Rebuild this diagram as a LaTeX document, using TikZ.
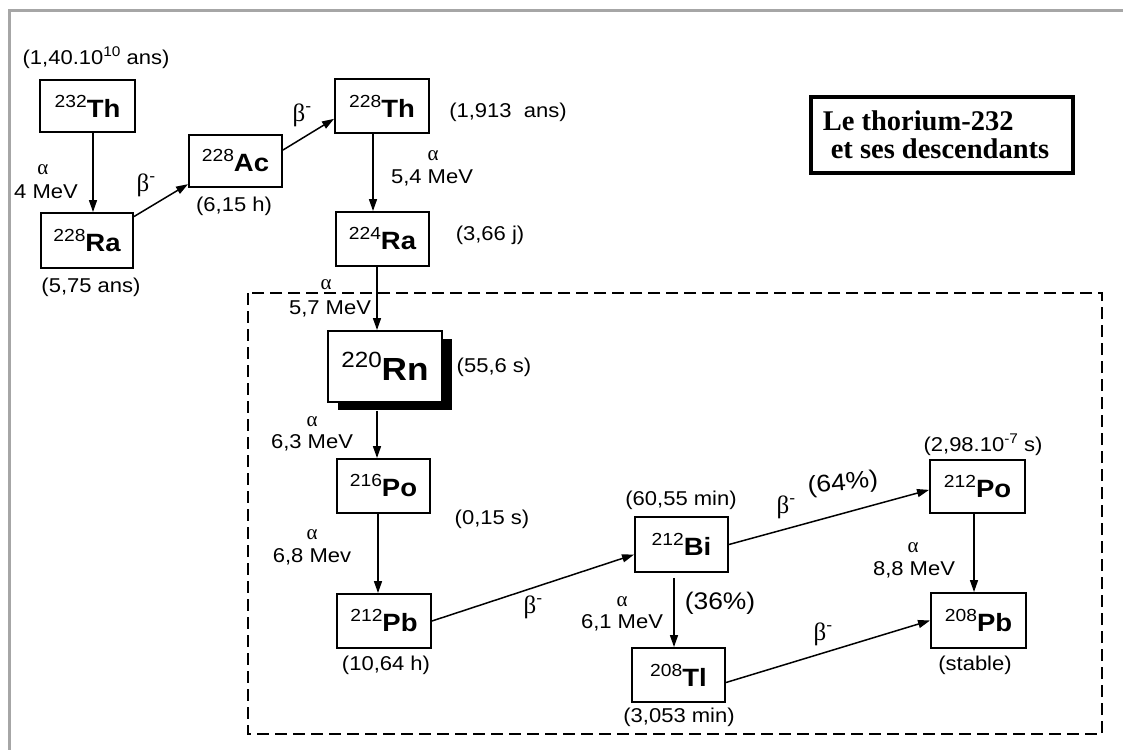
\documentclass[tikz,border=0pt]{standalone}
\usepackage{fontspec}
\setmainfont{Liberation Sans}[FakeStretch=1.1]
\newfontfamily\grf{Liberation Serif}
\newfontfamily\ttlf{Liberation Serif}
\usetikzlibrary{arrows.meta,calc,shadows}
\newcommand\fs[1]{\fontsize{#1}{#1}\selectfont}
\newcommand\iso[2]{{\fs{17.5}\raisebox{10pt}{#1}}{\fs{25}\bfseries #2}}
\newcommand\betam{{\grf\fs{25}β}{\fs{16}\raisebox{10pt}{-}}}
\begin{document}
\begin{tikzpicture}[x=1pt,y=-1pt,
  nuc/.style={draw, line width=1.9pt, fill=white, inner sep=0pt},
  lab/.style={inner sep=0pt, font=\fs{20}},
  big/.style={inner sep=0pt, font=\fs{24}},
  al/.style={inner sep=0pt, font=\grf\fs{21}},
  be/.style={inner sep=0pt},
  arr/.style={line width=1.5pt, -{Triangle[length=12pt,width=8pt]}}]
\useasboundingbox (0,0) rectangle (1123,749);
\fill[white] (0,0) rectangle (1123,749);
% outer grey frame
\draw[gray!70, line width=3pt] (9,760) -- (9,11) -- (1130,11);
% dashed region
\draw[dash pattern=on 12pt off 6pt, line width=2pt] (248,293) rectangle (1102,734);

% nuclides
\node[nuc, minimum width=95pt, minimum height=52pt] (th1) at (87.5,106) {\iso{232}{Th}};
\node[nuc, minimum width=92pt, minimum height=55pt] (ra1) at (87,240.5) {\iso{228}{Ra}};
\node[nuc, minimum width=93pt, minimum height=52pt] (ac) at (235.5,161) {\iso{228}{Ac}};
\node[nuc, minimum width=94pt, minimum height=54pt] (th2) at (382,106) {\iso{228}{Th}};
\node[nuc, minimum width=93pt, minimum height=54pt] (ra2) at (382.5,239) {\iso{224}{Ra}};
\node[nuc, minimum width=114pt, minimum height=71pt,
  drop shadow={shadow xshift=10pt, shadow yshift=-8pt, fill=black, opacity=1}] (rn) at (385,366.5)
  {{\fs{22}\raisebox{13pt}{220}}{\fs{32}\bfseries Rn}};
\node[nuc, minimum width=93pt, minimum height=54pt] (po1) at (383.5,486) {\iso{216}{Po}};
\node[nuc, minimum width=94pt, minimum height=54pt] (pb1) at (384,621) {\iso{212}{Pb}};
\node[nuc, minimum width=93pt, minimum height=55pt] (bi) at (681.5,544.5) {\iso{212}{Bi}};
\node[nuc, minimum width=93pt, minimum height=54pt] (tl) at (678.5,675) {\iso{208}{Tl}};
\node[nuc, minimum width=95pt, minimum height=53pt] (po2) at (977.5,486.5) {\iso{212}{Po}};
\node[nuc, minimum width=95pt, minimum height=55pt] (pb2) at (978.5,620.5) {\iso{208}{Pb}};

% title
\node[draw, line width=4.5pt, minimum width=262pt, minimum height=76pt, inner sep=0pt] (title) at (942,135) {};
\node[inner sep=0pt, align=left, font=\ttlf\bfseries\fs{28.5}] (titletext) at (936,135)
  {Le thorium-232\\[-1pt]\hspace*{8pt}et ses descendants};

% arrows
\draw[arr] ([xshift=5.5pt]th1.south) -- ([xshift=5.5pt]th1.south |- ra1.north);
\draw[arr] (ra1.27) -- (ac.206);
\draw[arr] (ac.13) -- (th2.195);
\draw[arr] ([xshift=-9pt]th2.south) -- ([xshift=-9pt]th2.south |- ra2.north);
\draw[arr] ([xshift=-5.5pt]ra2.south) -- ([xshift=-5.5pt]ra2.south |- rn.north);
\draw[arr] ([xshift=-8pt,yshift=-8pt]rn.south) -- ([xshift=-8pt]rn.south |- po1.north);
\draw[arr] ([xshift=-5.5pt]po1.south) -- ([xshift=-5.5pt]po1.south |- pb1.north);
\draw[arr] (pb1.east) -- (bi.192.7);
\draw[arr] (bi.east) -- (po2.184);
\draw[arr] ([xshift=-7.5pt,yshift=-5pt]bi.south) -- ([xshift=-7.5pt]bi.south |- tl.north);
\draw[arr] (tl.351.4) -- (pb2.west);
\draw[arr] ([xshift=-3.5pt]po2.south) -- ([xshift=-3.5pt]po2.south |- pb2.north);

% labels
\node[lab] (l1) at (96,58) {(1,40.10{\fs{14}\raisebox{8pt}{10}} ans)};
\node[al] (a1) at (43,170) {α};
\node[lab] (e1) at (46,192) {4 MeV};
\node[be] (b1) at (146,185) {\betam};
\node[lab] (l2) at (234,206) {(6,15 h)};
\node[lab] (l3) at (91,287) {(5,75 ans)};
\node[be] (b2) at (302,115) {\betam};
\node[lab] (l4) at (508,112) {(1,913\ \ ans)};
\node[al] (a2) at (433,156) {α};
\node[lab] (e2) at (432,178) {5,4 MeV};
\node[lab] (l5) at (490,235) {(3,66 j)};
\node[al] (a3) at (326,285) {α};
\node[lab] (e3) at (330,309) {5,7 MeV};
\node[lab] (l6) at (494,367) {(55,6 s)};
\node[al] (a4) at (312,422) {α};
\node[lab] (e4) at (312,443) {6,3 MeV};
\node[lab] (l7) at (492,519) {(0,15 s)};
\node[al] (a5) at (312,535) {α};
\node[lab] (e5) at (312,557) {6,8 Mev};
\node[lab] (l8) at (386,665) {(10,64 h)};
\node[be] (b3) at (533,607) {\betam};
\node[lab] (l9) at (681,500) {(60,55 min)};
\node[al] (a6) at (622,602) {α};
\node[lab] (e6) at (622,623) {6,1 MeV};
\node[big] (p36) at (720,603) {(36\%)};
\node[lab] (l10) at (679,717) {(3,053 min)};
\node[be] (b4) at (786,507) {\betam};
\node[big, rotate=5] (p64) at (843,484) {(64\%)};
\node[lab] (l11) at (983,445) {(2,98.10{\fs{14}\raisebox{8pt}{-7}} s)};
\node[al] (a7) at (913,548) {α};
\node[lab] (e7) at (914,570) {8,8 MeV};
\node[be] (b5) at (823,634) {\betam};
\node[lab] (l12) at (975,665) {(stable)};
\end{tikzpicture}
\end{document}
